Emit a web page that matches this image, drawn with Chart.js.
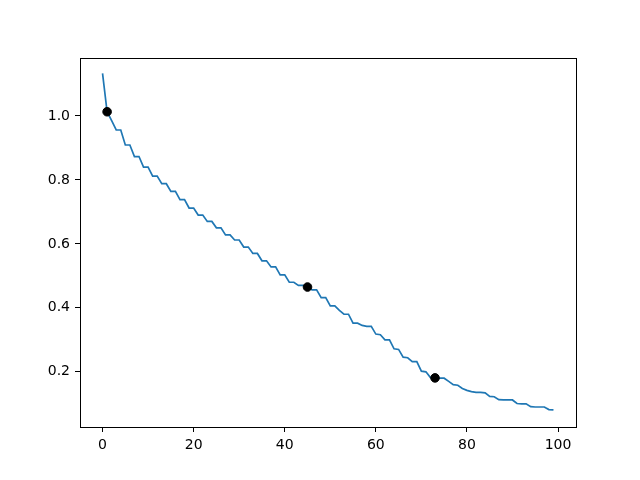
<!DOCTYPE html>
<html lang="en">
<head>
    <meta charset="UTF-8">
    <title>Stepped decay</title>
    <style>
        body {
            margin: 0;
            padding: 0;
            background: #fff;
        }
        #chart {
            display: block;
        }
    </style>
</head>
<body>
    <canvas id="chart" width="640" height="480"></canvas>

    <script src="https://cdn.jsdelivr.net/npm/chart.js"></script>
    <script>
        // curve values at x = 0..99
        const lineY = [
            1.133, 1.013, 0.985, 0.956, 0.956, 0.909, 0.909, 0.873, 0.873, 0.840,
            0.840, 0.812, 0.812, 0.788, 0.788, 0.764, 0.764, 0.738, 0.738, 0.712,
            0.712, 0.690, 0.690, 0.670, 0.670, 0.650, 0.650, 0.628, 0.628, 0.612,
            0.612, 0.590, 0.590, 0.570, 0.570, 0.547, 0.547, 0.528, 0.528, 0.503,
            0.503, 0.480, 0.480, 0.470, 0.470, 0.465, 0.456, 0.456, 0.432, 0.432,
            0.406, 0.406, 0.392, 0.380, 0.380, 0.352, 0.352, 0.345, 0.342, 0.342,
            0.318, 0.316, 0.300, 0.300, 0.272, 0.270, 0.246, 0.244, 0.232, 0.232,
            0.202, 0.200, 0.182, 0.181, 0.180, 0.180, 0.170, 0.160, 0.158, 0.148,
            0.142, 0.138, 0.136, 0.136, 0.134, 0.123, 0.122, 0.113, 0.112, 0.112,
            0.112, 0.101, 0.100, 0.100, 0.091, 0.090, 0.090, 0.090, 0.082, 0.081
        ];
        const lineX = lineY.map((_, i) => i);

        // black markers
        const markerX = [1, 45, 73];
        const markerY = [1.013, 0.465, 0.181];

        const xTicks = [0, 20, 40, 60, 80, 100];
        const yTicks = [0.2, 0.4, 0.6, 0.8, 1.0];

        const tickFont = { family: 'DejaVu Sans', size: 14 };

        // full box around the plot area, like the other two sides
        const frame = {
            id: 'frame',
            afterDatasetsDraw(chart) {
                const { ctx, chartArea: a } = chart;
                ctx.save();
                ctx.strokeStyle = '#000';
                ctx.lineWidth = 1;
                ctx.strokeRect(a.left + 0.5, a.top + 0.5, a.right - a.left, a.bottom - a.top);
                ctx.restore();
            }
        };

        new Chart(document.getElementById('chart'), {
            type: 'scatter',
            data: {
                datasets: [
                    {
                        data: markerX.map((x, i) => ({ x: x, y: markerY[i] })),
                        backgroundColor: '#000',
                        borderColor: '#000',
                        pointRadius: 4.3,
                        showLine: false
                    },
                    {
                        data: lineX.map((x, i) => ({ x: x, y: lineY[i] })),
                        borderColor: '#1f77b4',
                        borderWidth: 1.7,
                        pointRadius: 0,
                        showLine: true,
                        tension: 0
                    }
                ]
            },
            options: {
                responsive: false,
                animation: false,
                layout: { padding: { left: 0, top: 58, right: 64, bottom: 0 } },
                plugins: {
                    legend: { display: false },
                    tooltip: { enabled: false }
                },
                scales: {
                    x: {
                        type: 'linear',
                        min: -4.95,
                        max: 103.95,
                        afterBuildTicks: s => { s.ticks = xTicks.map(v => ({ value: v })); },
                        afterFit: s => { s.height = 53; },
                        grid: { display: true, drawOnChartArea: false, color: '#000', tickLength: 5 },
                        border: { display: true, color: '#000' },
                        ticks: { color: '#000', font: tickFont, padding: 5, maxRotation: 0 }
                    },
                    y: {
                        type: 'linear',
                        min: 0.0275,
                        max: 1.181,
                        afterBuildTicks: s => { s.ticks = yTicks.map(v => ({ value: v })); },
                        afterFit: s => { s.width = 80; },
                        grid: { display: true, drawOnChartArea: false, color: '#000', tickLength: 5 },
                        border: { display: true, color: '#000' },
                        ticks: { color: '#000', font: tickFont, padding: 5, callback: v => v.toFixed(1) }
                    }
                }
            },
            plugins: [frame]
        });
    </script>
</body>
</html>
